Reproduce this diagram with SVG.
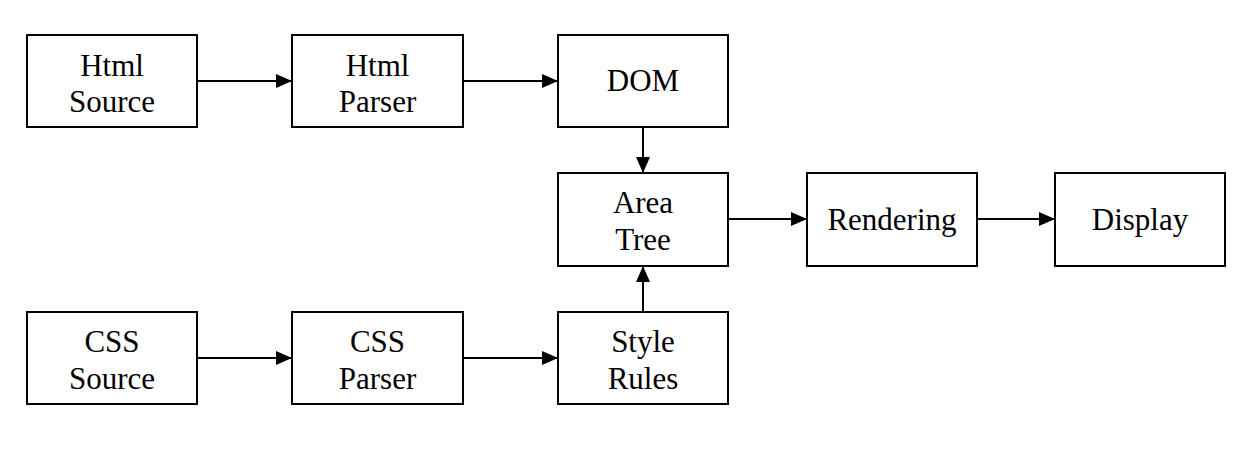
<svg xmlns="http://www.w3.org/2000/svg" width="1251" height="460" viewBox="0 0 1251 460">
<style>
.box{fill:#fff;stroke:#000;stroke-width:2}
.t{font-family:"Liberation Serif","Times New Roman",serif;font-size:31px;fill:#000;text-anchor:middle}
.c{stroke:#000;stroke-width:2;fill:none}
</style>
<defs>
<marker id="ah" viewBox="0 0 16 14" refX="16" refY="7" markerWidth="16" markerHeight="14" markerUnits="userSpaceOnUse" orient="auto">
<path d="M0,0 L16,7 L0,14 Z" fill="#000"/>
</marker>
</defs>
<rect width="1251" height="460" fill="#fff"/>
<g id="connectors">
<line class="c" x1="197" y1="81" x2="292" y2="81" marker-end="url(#ah)"/>
<line class="c" x1="463" y1="81" x2="558" y2="81" marker-end="url(#ah)"/>
<line class="c" x1="643" y1="127" x2="643" y2="173" marker-end="url(#ah)"/>
<line class="c" x1="643" y1="312" x2="643" y2="266" marker-end="url(#ah)"/>
<line class="c" x1="197" y1="358" x2="292" y2="358" marker-end="url(#ah)"/>
<line class="c" x1="463" y1="358" x2="558" y2="358" marker-end="url(#ah)"/>
<line class="c" x1="729" y1="219" x2="807" y2="219" marker-end="url(#ah)"/>
<line class="c" x1="977" y1="219" x2="1055" y2="219" marker-end="url(#ah)"/>
</g>
<g id="html-source"><rect class="box" x="27" y="35" width="170" height="92"/><text class="t" x="112" y="76">Html</text><text class="t" x="112" y="112">Source</text></g>
<g id="html-parser"><rect class="box" x="292" y="35" width="171" height="92"/><text class="t" x="377.5" y="76">Html</text><text class="t" x="377.5" y="112">Parser</text></g>
<g id="dom"><rect class="box" x="558" y="35" width="170" height="92"/><text class="t" x="643" y="91">DOM</text></g>
<g id="area-tree"><rect class="box" x="558" y="173" width="170" height="93"/><text class="t" x="643" y="213">Area</text><text class="t" x="643" y="250">Tree</text></g>
<g id="rendering"><rect class="box" x="807" y="173" width="170" height="93"/><text class="t" x="892" y="230">Rendering</text></g>
<g id="display"><rect class="box" x="1055" y="173" width="170" height="93"/><text class="t" x="1140" y="230">Display</text></g>
<g id="css-source"><rect class="box" x="27" y="312" width="170" height="92"/><text class="t" x="112" y="352">CSS</text><text class="t" x="112" y="389">Source</text></g>
<g id="css-parser"><rect class="box" x="292" y="312" width="171" height="92"/><text class="t" x="377.5" y="352">CSS</text><text class="t" x="377.5" y="389">Parser</text></g>
<g id="style-rules"><rect class="box" x="558" y="312" width="170" height="92"/><text class="t" x="643" y="352">Style</text><text class="t" x="643" y="389">Rules</text></g>
</svg>
